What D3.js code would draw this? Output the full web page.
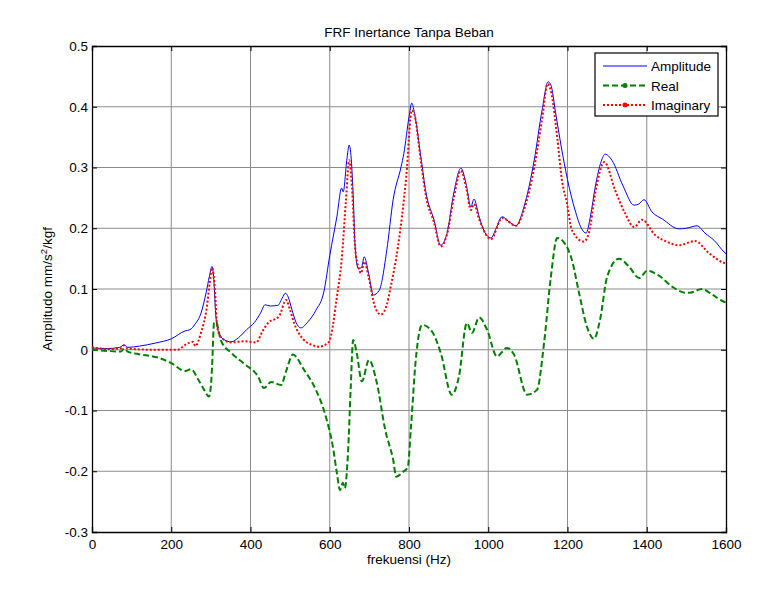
<!DOCTYPE html>
<html>
<head>
<meta charset="utf-8">
<script src="https://cdn.jsdelivr.net/npm/d3@7"></script>
<style>
  body { margin: 0; background: #fff; }
  svg { font-family: "Liberation Sans", Arial, sans-serif; }
  .axis text { font-size: 13.5px; fill: #000; }
  .axis path, .axis line { stroke: #000; }
  .grid line { stroke: #8c8c8c; stroke-width: 1; }
</style>
</head>
<body>
<svg width="771" height="601"></svg>
<script>
// frequency / value pairs
var ampFreq = [0,40,70,81,90,120,160,200,235,247,260,275,288,296,303,308,312,320,335,351,370,390,410,425,437,450,469,480,488,495,505,515,527,545,565,585,600,618,630,634,643,649,655,660,664,672,680,687,698,710,725,744,760,780,787,800,807,815,830,843,863,880,896,913,931,945,956,964,977,990,1007,1020,1035,1050,1070,1090,1116,1136,1151,1158,1170,1184,1200,1219,1235,1247,1258,1270,1285,1295,1312,1340,1368,1380,1393,1413,1440,1481,1500,1527,1547,1570,1595,1600];
var ampVal = [0.003,0.002,0.004,0.008,0.004,0.006,0.011,0.018,0.031,0.033,0.042,0.06,0.094,0.12,0.137,0.11,0.06,0.028,0.016,0.013,0.02,0.033,0.045,0.06,0.074,0.072,0.073,0.085,0.093,0.087,0.065,0.045,0.036,0.046,0.065,0.095,0.155,0.219,0.266,0.26,0.312,0.337,0.307,0.24,0.169,0.134,0.135,0.153,0.126,0.09,0.098,0.164,0.247,0.301,0.323,0.383,0.406,0.385,0.317,0.258,0.214,0.172,0.192,0.258,0.299,0.27,0.235,0.248,0.219,0.195,0.184,0.2,0.219,0.212,0.204,0.235,0.312,0.395,0.441,0.436,0.39,0.335,0.28,0.23,0.2,0.192,0.22,0.268,0.31,0.322,0.312,0.27,0.238,0.24,0.247,0.227,0.215,0.199,0.2,0.204,0.192,0.18,0.161,0.158];

var realFreq = [0,40,73,81,90,116,167,200,235,250,268,283,295,300,303,308,313,325,351,386,419,434,452,477,490,507,535,565,590,608,618,626,633,638,646,653,659,668,681,699,719,740,760,768,785,797,805,817,833,858,880,908,926,946,959,977,997,1022,1047,1065,1098,1123,1141,1158,1174,1192,1211,1229,1249,1267,1282,1300,1330,1355,1381,1401,1431,1464,1497,1509,1539,1565,1595,1600];
var realVal = [0,-0.002,-0.003,0.002,-0.003,-0.007,-0.013,-0.022,-0.035,-0.032,-0.049,-0.066,-0.077,-0.06,-0.028,0.044,0.046,0.016,-0.005,-0.024,-0.044,-0.063,-0.053,-0.058,-0.035,-0.008,-0.033,-0.066,-0.11,-0.16,-0.203,-0.231,-0.219,-0.228,-0.17,-0.061,0.016,-0.005,-0.052,-0.017,-0.055,-0.132,-0.181,-0.209,-0.201,-0.193,-0.127,-0.017,0.041,0.03,-0.005,-0.074,-0.044,0.044,0.028,0.053,0.033,-0.011,0.003,-0.008,-0.074,-0.066,0.012,0.12,0.184,0.176,0.148,0.094,0.038,0.018,0.049,0.12,0.15,0.137,0.118,0.13,0.122,0.104,0.094,0.094,0.1,0.091,0.079,0.078];

var imagFreq = [0,40,70,81,90,150,217,235,255,261,275,290,297,303,310,316,325,351,386,414,430,444,472,490,500,510,535,555,573,598,618,630,641,649,656,664,673,679,687,698,714,729,744,752,772,793,807,813,830,843,863,880,896,913,931,945,956,964,977,1007,1035,1070,1090,1116,1136,1150,1160,1174,1186,1199,1211,1241,1254,1270,1293,1320,1345,1368,1388,1421,1450,1481,1522,1557,1595,1600];
var imagVal = [0.004,0.001,0.002,0.007,0.002,0,0,0.008,0.013,0.006,0.028,0.071,0.11,0.135,0.1,0.038,0.021,0.012,0.014,0.012,0.03,0.044,0.055,0.082,0.065,0.044,0.016,0.008,0.005,0.013,0.087,0.148,0.247,0.312,0.268,0.169,0.134,0.126,0.145,0.12,0.071,0.058,0.074,0.098,0.169,0.285,0.394,0.389,0.31,0.252,0.21,0.17,0.19,0.25,0.295,0.265,0.23,0.24,0.215,0.182,0.217,0.204,0.23,0.3,0.38,0.438,0.42,0.35,0.279,0.24,0.197,0.178,0.192,0.258,0.309,0.263,0.225,0.202,0.214,0.189,0.178,0.172,0.179,0.159,0.143,0.142];

var xTicks = [0,200,400,600,800,1000,1200,1400,1600];
var yTicks = [-0.3,-0.2,-0.1,0,0.1,0.2,0.3,0.4,0.5];
var seriesNames = ["Amplitude", "Real", "Imaginary"];

var svg = d3.select("svg"),
    margin = {top: 46, right: 45, bottom: 69, left: 92},
    width = +svg.attr("width") - margin.left - margin.right,
    height = +svg.attr("height") - margin.top - margin.bottom;

var x = d3.scaleLinear().domain([0, 1600]).range([0, width]),
    y = d3.scaleLinear().domain([-0.3, 0.5]).range([height, 0]);

var g = svg.append("g")
    .attr("transform", "translate(" + margin.left + "," + margin.top + ")");

var fmtY = function(d) { return String(Math.round(d * 10) / 10); };

// grid
g.append("g").attr("class", "grid")
  .selectAll("line").data(xTicks.slice(1, -1)).enter().append("line")
    .attr("x1", function(d) { return x(d); }).attr("x2", function(d) { return x(d); })
    .attr("y1", 0).attr("y2", height);
g.append("g").attr("class", "grid")
  .selectAll("line").data(yTicks.slice(1, -1)).enter().append("line")
    .attr("y1", function(d) { return y(d); }).attr("y2", function(d) { return y(d); })
    .attr("x1", 0).attr("x2", width);

// axes, ticks pointing inward like matlab
g.append("g").attr("class", "axis")
    .attr("transform", "translate(0," + height + ")")
    .call(d3.axisBottom(x).tickValues(xTicks).tickFormat(d3.format("d")).tickSize(-5).tickPadding(7));
g.append("g").attr("class", "axis")
    .call(d3.axisLeft(y).tickValues(yTicks).tickFormat(fmtY).tickSize(-5).tickPadding(4));
g.append("g").attr("class", "axis")
    .call(d3.axisTop(x).tickValues(xTicks).tickSize(-5).tickFormat(""));
g.append("g").attr("class", "axis")
    .attr("transform", "translate(" + width + ",0)")
    .call(d3.axisRight(y).tickValues(yTicks).tickSize(-5).tickFormat(""));
g.selectAll(".axis path").attr("stroke-width", 1.3);

var line = d3.line()
    .x(function(d) { return x(d[0]); })
    .y(function(d) { return y(d[1]); })
    .curve(d3.curveMonotoneX);

var series = [
  {name: seriesNames[0], data: d3.zip(ampFreq, ampVal), color: "#0000ff", w: 1, dash: null},
  {name: seriesNames[1], data: d3.zip(realFreq, realVal), color: "#008000", w: 2, dash: "6,3"},
  {name: seriesNames[2], data: d3.zip(imagFreq, imagVal), color: "#ff0000", w: 2, dash: "2,2"}
];

series.forEach(function(s) {
  g.append("path")
    .datum(s.data)
    .attr("fill", "none")
    .attr("stroke", s.color)
    .attr("stroke-width", s.w)
    .attr("stroke-dasharray", s.dash)
    .attr("d", line);
});

// titles
svg.append("text")
    .attr("x", margin.left + width / 2).attr("y", 37)
    .attr("text-anchor", "middle").attr("font-size", 13.5)
    .text("FRF Inertance Tanpa Beban");
svg.append("text")
    .attr("x", margin.left + width / 2).attr("y", 564)
    .attr("text-anchor", "middle").attr("font-size", 13.5)
    .text("frekuensi (Hz)");
var yl = svg.append("text")
    .attr("transform", "translate(52," + (margin.top + height / 2) + ") rotate(-90)")
    .attr("text-anchor", "middle").attr("font-size", 13.5);
yl.append("tspan").text("Amplitudo mm/s");
yl.append("tspan").attr("font-size", 9.5).attr("dy", -5).text("2");
yl.append("tspan").attr("dy", 5).text("/kgf");

// legend
var lg = svg.append("g").attr("transform", "translate(595,53)");
lg.append("rect").attr("width", 123).attr("height", 63)
    .attr("fill", "#fff").attr("stroke", "#000").attr("stroke-width", 1.2);
series.forEach(function(s, i) {
  var ly = 13 + i * 19.5;
  lg.append("line").attr("x1", 8).attr("x2", 52).attr("y1", ly).attr("y2", ly)
    .attr("stroke", s.color).attr("stroke-width", s.w).attr("stroke-dasharray", s.dash);
  if (i > 0) {
    lg.append("circle").attr("cx", 30).attr("cy", ly).attr("r", 2.5).attr("fill", s.color);
  }
  lg.append("text").attr("x", 56).attr("y", ly + 5).attr("font-size", 13.5).text(s.name);
});
</script>
</body>
</html>
